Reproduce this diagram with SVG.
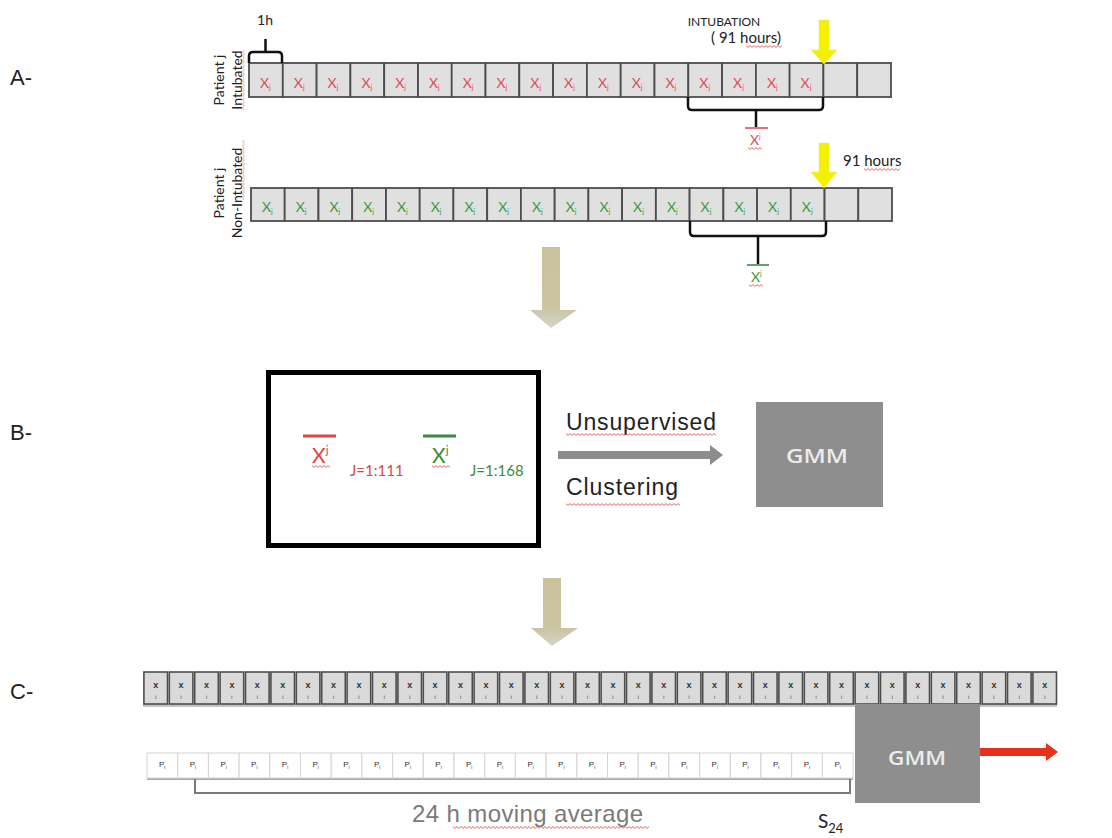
<svg xmlns="http://www.w3.org/2000/svg" xmlns:xlink="http://www.w3.org/1999/xlink" width="1112" height="838" viewBox="0 0 1112 838">
<style>
.lbl{font-family:"Liberation Sans",Arial,sans-serif;font-size:22px;fill:#222}
.cal{font-family:Lato,"Open Sans",sans-serif;fill:#222}
.hv{font-family:"Liberation Sans",Arial,sans-serif}
.brace{fill:none;stroke:#111;stroke-width:2.5;stroke-linejoin:round}
.cellA{fill:#e0e0e0;stroke:#4d4d4d;stroke-width:1.8}
.xr{font-family:Lato,"Open Sans",sans-serif;font-size:14px;fill:#e04b5a}
.xg{font-family:Lato,"Open Sans",sans-serif;font-size:14px;fill:#3d9b3d}
.cellC{fill:#dadada;stroke:#4d4d4d;stroke-width:1.6}
.cellP{fill:#fff;stroke:#d4d4d4;stroke-width:1}
.tiny{font-family:"Liberation Sans",Arial,sans-serif;fill:#333}
.gmm{fill:#8e8e8e}
.gmmt{font-family:"Open Sans","Liberation Sans",sans-serif;font-weight:600;fill:#ececec;text-anchor:middle}
</style>
<defs>
<pattern id="wave" width="4" height="3" patternUnits="userSpaceOnUse">
<path d="M0,0.6 L2,2.4 L4,0.6" fill="none" stroke="#e04040" stroke-width="0.8"/>
</pattern>
<linearGradient id="tan" x1="0" y1="0" x2="0" y2="1">
<stop offset="0" stop-color="#c9c29b"/>
<stop offset="0.75" stop-color="#cbc5a2"/>
<stop offset="1" stop-color="#d6d4cc"/>
</linearGradient>
<g id="cR"><rect class="cellA" width="33.8" height="34"/><text class="xr" x="11" y="25">X<tspan font-size="7" dy="2">j</tspan></text></g>
<g id="cG"><rect class="cellA" width="33.7" height="33"/><text class="xg" x="11" y="24">X<tspan font-size="7" dy="2">j</tspan></text></g>
<g id="cE"><rect class="cellA" width="33.8" height="34"/></g>
<g id="cE2"><rect class="cellA" width="33.7" height="33"/></g>
<g id="cC"><rect class="cellC" x="0.9" y="0" width="23.6" height="32"/><text class="tiny" x="12.7" y="16" font-size="9" font-weight="bold" text-anchor="middle">x</text><text class="tiny" x="12.7" y="27" font-size="5" fill="#777" text-anchor="middle">i</text></g>
<g id="cP"><rect class="cellP" width="30.7" height="25"/><text class="tiny" x="12" y="14" font-size="8">P<tspan font-size="4.5" dy="1.5">i</tspan></text></g>
</defs>
<rect width="1112" height="838" fill="#fff"/>

<g id="section-labels">
<text class="lbl" x="10" y="85">A-</text>
<text class="lbl" x="10" y="440">B-</text>
<text class="lbl" x="10" y="699">C-</text>
</g>

<g id="rowA">
<text class="cal" font-size="14" transform="translate(224,80) rotate(-90)" text-anchor="middle">Patient j</text>
<text class="cal" font-size="14" transform="translate(242,80) rotate(-90)" text-anchor="middle">Intubated</text>
<rect transform="translate(245,50) rotate(90)" width="60" height="3" fill="url(#wave)" opacity="0.6"/>
<use xlink:href="#cR" x="249" y="63"/>
<use xlink:href="#cR" x="282.8" y="63"/>
<use xlink:href="#cR" x="316.6" y="63"/>
<use xlink:href="#cR" x="350.4" y="63"/>
<use xlink:href="#cR" x="384.2" y="63"/>
<use xlink:href="#cR" x="418" y="63"/>
<use xlink:href="#cR" x="451.7" y="63"/>
<use xlink:href="#cR" x="485.5" y="63"/>
<use xlink:href="#cR" x="519.3" y="63"/>
<use xlink:href="#cR" x="553.1" y="63"/>
<use xlink:href="#cR" x="586.9" y="63"/>
<use xlink:href="#cR" x="620.7" y="63"/>
<use xlink:href="#cR" x="654.5" y="63"/>
<use xlink:href="#cR" x="688.3" y="63"/>
<use xlink:href="#cR" x="722.1" y="63"/>
<use xlink:href="#cR" x="755.9" y="63"/>
<use xlink:href="#cR" x="789.6" y="63"/>
<use xlink:href="#cE" x="823.4" y="63"/>
<use xlink:href="#cE" x="857.2" y="63"/>
<text class="cal" font-size="14" x="265" y="25" text-anchor="middle">1h</text>
<text class="cal" font-size="12" x="724" y="26" text-anchor="middle">INTUBATION</text>
<text class="cal" font-size="15" x="746" y="43" text-anchor="middle">( 91 hours)</text>
<rect transform="translate(746,45)" width="36" height="3" fill="url(#wave)"/>
<line x1="745" y1="128" x2="768" y2="128" stroke="#e04b5a" stroke-width="1.6"/>
<text class="xr" x="750" y="145" font-size="15">X<tspan font-size="7" dy="-6">j</tspan></text>
<rect transform="translate(748,147)" width="14" height="3" fill="url(#wave)"/>
</g>

<g id="rowB">
<text class="cal" font-size="14" transform="translate(224,193) rotate(-90)" text-anchor="middle">Patient j</text>
<text class="cal" font-size="14" transform="translate(242,193) rotate(-90)" text-anchor="middle">Non-Intubated</text>
<rect transform="translate(245,140) rotate(90)" width="60" height="3" fill="url(#wave)" opacity="0.6"/>
<use xlink:href="#cG" x="251" y="188"/>
<use xlink:href="#cG" x="284.7" y="188"/>
<use xlink:href="#cG" x="318.5" y="188"/>
<use xlink:href="#cG" x="352.2" y="188"/>
<use xlink:href="#cG" x="386" y="188"/>
<use xlink:href="#cG" x="419.7" y="188"/>
<use xlink:href="#cG" x="453.4" y="188"/>
<use xlink:href="#cG" x="487.2" y="188"/>
<use xlink:href="#cG" x="520.9" y="188"/>
<use xlink:href="#cG" x="554.7" y="188"/>
<use xlink:href="#cG" x="588.4" y="188"/>
<use xlink:href="#cG" x="622.1" y="188"/>
<use xlink:href="#cG" x="655.9" y="188"/>
<use xlink:href="#cG" x="689.6" y="188"/>
<use xlink:href="#cG" x="723.4" y="188"/>
<use xlink:href="#cG" x="757.1" y="188"/>
<use xlink:href="#cG" x="790.8" y="188"/>
<use xlink:href="#cE2" x="824.6" y="188"/>
<use xlink:href="#cE2" x="858.3" y="188"/>
<text class="cal" font-size="15" x="843" y="166">91 hours</text>
<rect transform="translate(864,168)" width="36" height="3" fill="url(#wave)"/>
<line x1="747" y1="265" x2="769" y2="265" stroke="#3d8b3d" stroke-width="1.6"/>
<text class="xg" x="751" y="282" font-size="15">X<tspan font-size="7" dy="-6">j</tspan></text>
<rect transform="translate(749,284)" width="14" height="3" fill="url(#wave)"/>
</g>

<g id="boxB">
<rect x="268.5" y="372.5" width="270" height="173" fill="#fff" stroke="#000" stroke-width="5"/>
<line x1="303" y1="436" x2="336" y2="436" stroke="#e04848" stroke-width="3"/>
<text class="cal" font-size="21" x="312" y="463" style="fill:#e04848">X<tspan font-size="12" dy="-9">j</tspan></text>
<rect transform="translate(312,465)" width="18" height="3" fill="url(#wave)"/>
<text class="cal" font-size="15" x="350" y="476" style="fill:#d84848">J=1:111</text>
<line x1="423" y1="436" x2="456" y2="436" stroke="#3d8b3d" stroke-width="3"/>
<text class="cal" font-size="21" x="432" y="463" style="fill:#3d8b3d">X<tspan font-size="12" dy="-9">j</tspan></text>
<rect transform="translate(432,465)" width="18" height="3" fill="url(#wave)"/>
<text class="cal" font-size="15" x="470" y="476" style="fill:#3d8b3d">J=1:168</text>
</g>

<g id="clustering-label">
<text class="hv" font-size="23" x="566" y="430" textLength="150" fill="#222">Unsupervised</text>
<rect transform="translate(566,433)" width="150" height="3" fill="url(#wave)"/>
<text class="hv" font-size="23" x="566" y="495" textLength="112" fill="#222">Clustering</text>
<rect transform="translate(566,503)" width="114" height="3" fill="url(#wave)"/>
</g>

<g id="gmmB">
<rect class="gmm" x="756" y="402" width="127" height="105"/>
<text class="gmmt" x="817" y="463" font-size="19" textLength="62" lengthAdjust="spacingAndGlyphs">GMM</text>
</g>

<g id="rowC">
<rect x="143" y="704" width="914" height="3" fill="#c4c4c4"/>
<use xlink:href="#cC" x="143" y="672"/>
<use xlink:href="#cC" x="168.4" y="672"/>
<use xlink:href="#cC" x="193.8" y="672"/>
<use xlink:href="#cC" x="219.2" y="672"/>
<use xlink:href="#cC" x="244.6" y="672"/>
<use xlink:href="#cC" x="270" y="672"/>
<use xlink:href="#cC" x="295.4" y="672"/>
<use xlink:href="#cC" x="320.8" y="672"/>
<use xlink:href="#cC" x="346.2" y="672"/>
<use xlink:href="#cC" x="371.6" y="672"/>
<use xlink:href="#cC" x="397" y="672"/>
<use xlink:href="#cC" x="422.4" y="672"/>
<use xlink:href="#cC" x="447.8" y="672"/>
<use xlink:href="#cC" x="473.2" y="672"/>
<use xlink:href="#cC" x="498.6" y="672"/>
<use xlink:href="#cC" x="524" y="672"/>
<use xlink:href="#cC" x="549.4" y="672"/>
<use xlink:href="#cC" x="574.8" y="672"/>
<use xlink:href="#cC" x="600.2" y="672"/>
<use xlink:href="#cC" x="625.6" y="672"/>
<use xlink:href="#cC" x="651" y="672"/>
<use xlink:href="#cC" x="676.4" y="672"/>
<use xlink:href="#cC" x="701.8" y="672"/>
<use xlink:href="#cC" x="727.2" y="672"/>
<use xlink:href="#cC" x="752.6" y="672"/>
<use xlink:href="#cC" x="778" y="672"/>
<use xlink:href="#cC" x="803.4" y="672"/>
<use xlink:href="#cC" x="828.8" y="672"/>
<use xlink:href="#cC" x="854.2" y="672"/>
<use xlink:href="#cC" x="879.6" y="672"/>
<use xlink:href="#cC" x="905" y="672"/>
<use xlink:href="#cC" x="930.4" y="672"/>
<use xlink:href="#cC" x="955.8" y="672"/>
<use xlink:href="#cC" x="981.2" y="672"/>
<use xlink:href="#cC" x="1006.6" y="672"/>
<use xlink:href="#cC" x="1032" y="672"/>
</g>

<g id="rowP">
<line x1="147" y1="779" x2="853" y2="779" stroke="#a8a8a8" stroke-width="2"/>
<use xlink:href="#cP" x="147" y="753"/>
<use xlink:href="#cP" x="177.7" y="753"/>
<use xlink:href="#cP" x="208.4" y="753"/>
<use xlink:href="#cP" x="239.1" y="753"/>
<use xlink:href="#cP" x="269.8" y="753"/>
<use xlink:href="#cP" x="300.5" y="753"/>
<use xlink:href="#cP" x="331.2" y="753"/>
<use xlink:href="#cP" x="361.9" y="753"/>
<use xlink:href="#cP" x="392.6" y="753"/>
<use xlink:href="#cP" x="423.3" y="753"/>
<use xlink:href="#cP" x="454" y="753"/>
<use xlink:href="#cP" x="484.7" y="753"/>
<use xlink:href="#cP" x="515.4" y="753"/>
<use xlink:href="#cP" x="546.1" y="753"/>
<use xlink:href="#cP" x="576.8" y="753"/>
<use xlink:href="#cP" x="607.5" y="753"/>
<use xlink:href="#cP" x="638.2" y="753"/>
<use xlink:href="#cP" x="668.9" y="753"/>
<use xlink:href="#cP" x="699.6" y="753"/>
<use xlink:href="#cP" x="730.3" y="753"/>
<use xlink:href="#cP" x="761" y="753"/>
<use xlink:href="#cP" x="791.7" y="753"/>
<use xlink:href="#cP" x="822.4" y="753"/>
<text class="hv" font-size="24" x="412" y="822" textLength="231" fill="#7a7a7a">24 h moving average</text>
<rect transform="translate(453,826)" width="196" height="3" fill="url(#wave)"/>
<text class="cal" font-size="19" x="818" y="828" style="fill:#222">S<tspan font-size="13" dy="5">24</tspan></text>
</g>

<g id="gmmC">
<rect class="gmm" x="855" y="704" width="125" height="99"/>
<text class="gmmt" x="917" y="765" font-size="19" textLength="58" lengthAdjust="spacingAndGlyphs">GMM</text>
</g>

<g id="connectors">
<path class="brace" d="M249,63 V56 Q249,52 253,52 H278 Q282,52 282,56 V63 M265.5,52 V39"/>
<path class="brace" d="M688,97 V106 Q688,110 692,110 H819 Q823,110 823,106 V97 M756,110 V127"/>
<path class="brace" d="M690,221 V232 Q690,236 694,236 H822 Q826,236 826,232 V221 M758,236 V264"/>
<path d="M819,20 H829 V50 H837 L824,64 L811,50 H819 Z" fill="#f2f200" stroke="#e8e870" stroke-width="0.6"/>
<path d="M819,143 H829 V172 H837 L824,188 L811,172 H819 Z" fill="#f2f200" stroke="#e8e870" stroke-width="0.6"/>
<path d="M542,247 H560 V310 H577 L551,328 L530,310 H542 Z" fill="url(#tan)"/>
<path d="M543,578 H561 V628 H578 L552,646 L531,628 H543 Z" fill="url(#tan)"/>
<path d="M558,451 H710 V445 L723,455 L710,465 V459 H558 Z" fill="#8c8c8c"/>
<path d="M980,748 H1046 V743 L1058,752 L1046,761 V756 H980 Z" fill="#e8311a"/>
<path d="M195,779 V793 H850 V779" fill="none" stroke="#7a7a7a" stroke-width="2"/>
</g>
</svg>
